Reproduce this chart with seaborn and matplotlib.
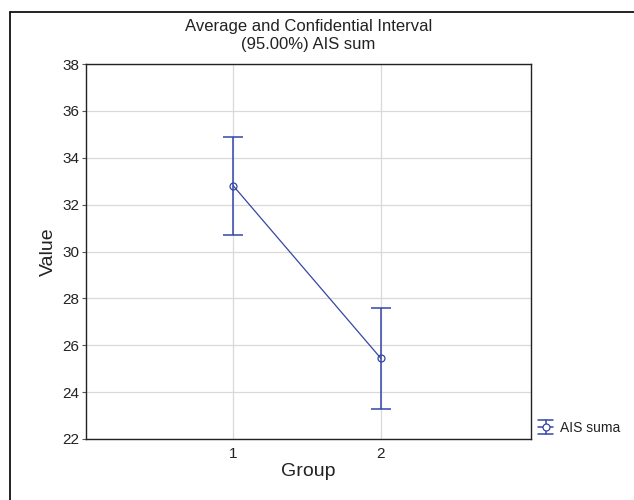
import matplotlib
matplotlib.use("Agg")
import matplotlib.pyplot as plt
import seaborn as sns
import pandas as pd
from matplotlib.lines import Line2D
from matplotlib.legend_handler import HandlerBase

groups = [1, 2]
means = [32.8, 25.45]
upper = [34.9, 27.6]
lower = [30.7, 23.3]
series_name = "AIS suma"
yticks = [22, 24, 26, 28, 30, 32, 34, 36, 38]
xticks = [1, 2]

sns.set_style("white")
plt.rcParams['font.family'] = ['Liberation Sans', 'DejaVu Sans']
plt.rcParams['text.color'] = '#222222'
plt.rcParams['axes.labelcolor'] = '#222222'
plt.rcParams['xtick.color'] = '#222222'
plt.rcParams['ytick.color'] = '#222222'

color = "#3446a8"
df = pd.DataFrame({"Group": groups, "Value": means})

fig = plt.figure(figsize=(6.34, 5.0), dpi=100)
ax = fig.add_axes([86/634, 1-439/500, (531-86)/634, (439-64)/500])

sns.lineplot(data=df, x="Group", y="Value", ax=ax, color=color, lw=0.9,
             marker="o", markersize=5, markerfacecolor="none",
             markeredgecolor=color, markeredgewidth=0.9)
yerr = [[m - l for m, l in zip(means, lower)], [u - m for u, m in zip(upper, means)]]
ax.errorbar(groups, means, yerr=yerr, fmt="none", ecolor=color,
            elinewidth=1.1, capsize=7, capthick=1.1)

ax.set_xlim(0, 3.02)
ax.set_ylim(22, 38)
ax.set_xticks(xticks)
ax.set_yticks(yticks)
ax.set_xticklabels([str(x) for x in xticks], fontsize=11)
ax.set_yticklabels([str(y) for y in yticks], fontsize=11)
ax.grid(True, color="#d9d9d9", lw=0.9)
ax.set_axisbelow(True)
for s in ax.spines.values():
    s.set_color("#222222")
    s.set_linewidth(1.0)
ax.tick_params(axis="y", which="both", left=True, length=3, width=0.8, color="#555555", pad=2)
ax.tick_params(axis="x", which="both", bottom=False, pad=2)
ax.set_xlabel("Group", fontsize=14, labelpad=2)
ax.set_ylabel("Value", fontsize=14, labelpad=4)
ax.set_title("Average and Confidential Interval\n(95.00%) AIS sum", fontsize=12, pad=11, linespacing=1.25)


class ErrGlyph:
    pass


class ErrGlyphHandler(HandlerBase):
    def create_artists(self, legend, orig_handle, xdescent, ydescent, width, height,
                       fontsize, trans):
        x0, x1 = -xdescent, -xdescent + width
        xm = (x0 + x1) / 2
        ym = -ydescent + height / 2
        h = 5.2
        kw = dict(color=color, lw=1.1, transform=trans)
        arts = [
            Line2D([x0, x1], [ym, ym], **kw),
            Line2D([x0, x1], [ym + h, ym + h], **kw),
            Line2D([x0, x1], [ym - h, ym - h], **kw),
            Line2D([xm, xm], [ym - h, ym + h], **kw),
            Line2D([xm], [ym], marker="o", markersize=5, mfc="white", mec=color,
                   mew=0.9, transform=trans, ls="none"),
        ]
        return arts


ax.legend([ErrGlyph()], [series_name], handler_map={ErrGlyph: ErrGlyphHandler()},
          loc="center left", bbox_to_anchor=(1.0, 0.03),
          frameon=False, fontsize=10, handlelength=1.1, handletextpad=0.5,
          borderaxespad=0.3, borderpad=0.2)

# outer figure frame (top and left lines)
fig.add_artist(Line2D([10/634, 1.0], [1-12/500, 1-12/500], color="#111111", lw=1.3,
                      transform=fig.transFigure))
fig.add_artist(Line2D([10/634, 10/634], [0, 1-12/500], color="#111111", lw=1.3,
                      transform=fig.transFigure))

fig.savefig("out.png", dpi=100)
